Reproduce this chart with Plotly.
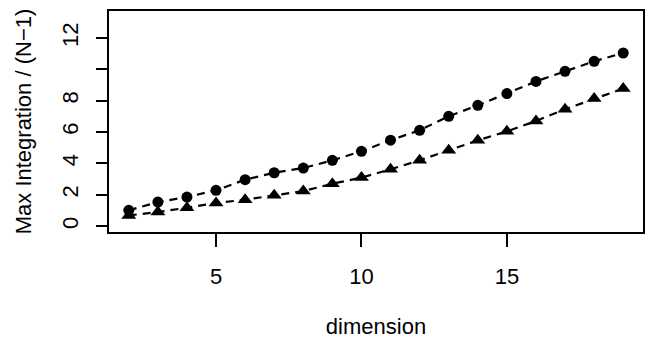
import plotly.graph_objects as go

dimension = list(range(2, 20))
circle_vals = [1.00, 1.53, 1.85, 2.28, 2.96, 3.40, 3.70, 4.19, 4.77, 5.48,
               6.11, 7.00, 7.70, 8.45, 9.23, 9.87, 10.51, 11.04]
triangle_vals = [0.68, 0.89, 1.17, 1.47, 1.68, 1.96, 2.23, 2.70, 3.09, 3.62,
                 4.19, 4.83, 5.47, 6.04, 6.70, 7.45, 8.13, 8.77]

x_tick_vals = [5, 10, 15]
x_tick_text = ["5", "10", "15"]
y_tick_vals = [0, 2, 4, 6, 8, 10, 12]
y_tick_text = ["0", "2", "4", "6", "8", "", "12"]

FONT = "Liberation Sans, Arial, Helvetica, sans-serif"

fig = go.Figure()
fig.add_trace(go.Scatter(
    x=dimension, y=circle_vals, mode="lines+markers",
    line=dict(color="black", width=2.2, dash="8px,6px"),
    marker=dict(symbol="circle", size=11, color="black"),
    showlegend=False))
fig.add_trace(go.Scatter(
    x=dimension, y=triangle_vals, mode="lines+markers",
    line=dict(color="black", width=2.2, dash="8px,6px"),
    marker=dict(symbol="triangle-up", size=13, color="black"),
    showlegend=False))

fig.update_layout(
    width=653, height=341,
    margin=dict(l=109, r=10, t=11, b=109),
    paper_bgcolor="white", plot_bgcolor="white",
    font=dict(family=FONT, size=22, color="black"),
)
fig.update_xaxes(
    range=[1.32, 19.68], tickmode="array", tickvals=x_tick_vals, ticktext=x_tick_text,
    showgrid=False, zeroline=False, showline=True, mirror=True,
    linecolor="black", linewidth=2, automargin=False,
    ticks="outside", ticklen=13, tickwidth=2, tickcolor="black",
    ticklabelstandoff=11,
    title=dict(text="dimension", standoff=30, font=dict(size=22)),
)
fig.update_yaxes(
    range=[-0.38, 13.72], tickmode="array", tickvals=y_tick_vals, ticktext=y_tick_text,
    showgrid=False, zeroline=False, showline=True, mirror=True,
    linecolor="black", linewidth=2, automargin=False,
    ticks="outside", ticklen=11, tickwidth=2, tickcolor="black",
    tickangle=-90, ticklabelstandoff=9,
    title=dict(text="Max Integration / (N\u22121)", standoff=21, font=dict(size=22)),
)

fig.write_html("out.html")
